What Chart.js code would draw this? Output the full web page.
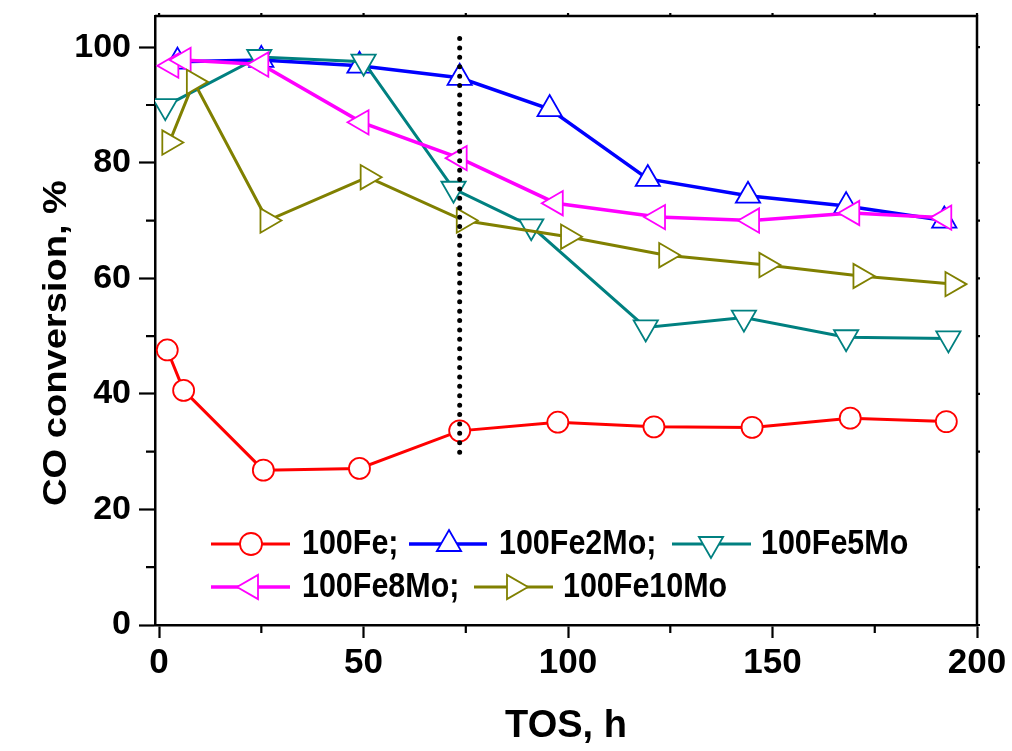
<!DOCTYPE html>
<html>
<head>
<meta charset="utf-8">
<title>CO conversion vs TOS</title>
<script src="https://cdn.jsdelivr.net/npm/chart.js@4.4.1/dist/chart.umd.min.js"></script>
<style>
  html, body { margin: 0; padding: 0; background: #fff; }
  #wrap { width: 1012px; height: 751px; position: relative; }
</style>
</head>
<body>
<div id="wrap"><canvas id="coChart"></canvas></div>
<script>
// time on stream (h) and CO conversion (%)
const tosFe = [2, 6, 25.5, 49, 73.5, 97.5, 121, 145, 169, 192.5];
const convFe = [47.6, 40.6, 26.8, 27.1, 33.6, 35.1, 34.3, 34.2, 35.8, 35.2];

const tosFe2Mo = [4.5, 25, 49, 73.5, 95.5, 119.5, 144, 168, 192];
const convFe2Mo = [97.5, 97.8, 96.8, 94.7, 89.3, 77.2, 74.3, 72.5, 70];

const tosFe5Mo = [1.5, 24.5, 50, 72, 91, 119, 143, 168, 193];
const convFe5Mo = [89.8, 98.3, 97.5, 75.5, 69, 51.5, 53.2, 49.8, 49.6];

const tosFe8Mo = [3, 6, 25, 49.5, 73.5, 97, 122, 145, 169.5, 192];
const convFe8Mo = [96.8, 97.8, 97, 87, 80.8, 73, 70.6, 70, 71.3, 70.5];

const tosFe10Mo = [2.5, 8.5, 26.5, 51, 74.5, 100, 124, 148.5, 171.5, 194];
const convFe10Mo = [83.5, 94, 70, 77.5, 70, 67.2, 64, 62.3, 60.4, 59];

// dotted marker line
const markTos = [73.5, 73.5];
const markConv = [101.5, 28.5];

const seriesNames = ["100Fe;", "100Fe2Mo;", "100Fe5Mo", "100Fe8Mo;", "100Fe10Mo"];

const xTicks = [0, 50, 100, 150, 200];
const xMinorTicks = [25, 75, 125, 175];
const yTicks = [0, 20, 40, 60, 80, 100];
const yMinorTicks = [10, 30, 50, 70, 90];

const toPoints = (xs, ys) => xs.map((x, i) => ({ x, y: ys[i] }));

const fontFamily = '"Liberation Sans", Arial, sans-serif';

const makeSeries = (label, xs, ys, color, style, rot, radius, width, order) => ({
    label,
    data: toPoints(xs, ys),
    borderColor: color,
    borderWidth: width,
    pointStyle: style,
    pointRotation: rot,
    pointRadius: radius,
    pointBorderWidth: 1.8,
    pointBorderColor: color,
    pointBackgroundColor: "#fff",
    tension: 0,
    order,
});

const datasets = [
    makeSeries(seriesNames[0], tosFe, convFe, "#ff0000", "circle", 0, 10.5, 3, 5),
    makeSeries(seriesNames[1], tosFe2Mo, convFe2Mo, "#0000ff", "triangle", 0, 14, 3.5, 4),
    makeSeries(seriesNames[2], tosFe5Mo, convFe5Mo, "#008080", "triangle", 180, 14, 3, 3),
    makeSeries(seriesNames[3], tosFe8Mo, convFe8Mo, "#ff00ff", "triangle", -90, 14, 3.5, 2),
    makeSeries(seriesNames[4], tosFe10Mo, convFe10Mo, "#808000", "triangle", 90, 14, 3, 1),
    {
        label: "marker",
        data: toPoints(markTos, markConv),
        borderColor: "#000",
        borderWidth: 5,
        borderDash: [0, 9.4],
        borderCapStyle: "round",
        pointRadius: 0,
        order: 0,
    },
];

function drawMarker(ctx, style, rot, r, cx, cy) {
    ctx.beginPath();
    if (style === "circle") {
        ctx.arc(cx, cy, r, 0, Math.PI * 2);
    } else {
        const a = (rot * Math.PI) / 180;
        for (let k = 0; k < 3; k++) {
            const t = a + (k * 2 * Math.PI) / 3;
            const px = cx + Math.sin(t) * r;
            const py = cy - Math.cos(t) * r;
            if (k === 0) ctx.moveTo(px, py);
            else ctx.lineTo(px, py);
        }
        ctx.closePath();
    }
    ctx.fill();
    ctx.stroke();
}

// box frame, minor ticks and the y title
const framePlugin = {
    id: "frame",
    afterDraw(chart) {
        const { ctx, chartArea: a, scales } = chart;
        const x = scales.x, y = scales.y;
        ctx.save();
        ctx.strokeStyle = "#000";
        ctx.lineWidth = 2.5;
        ctx.beginPath();
        ctx.moveTo(a.left, a.top);
        ctx.lineTo(a.right, a.top);
        ctx.lineTo(a.right, a.bottom);
        ctx.stroke();

        ctx.lineWidth = 2.2;
        ctx.beginPath();
        yMinorTicks.forEach((v) => {
            const py = y.getPixelForValue(v);
            ctx.moveTo(a.left, py);
            ctx.lineTo(a.left - 9, py);
        });
        xMinorTicks.forEach((v) => {
            const px = x.getPixelForValue(v);
            ctx.moveTo(px, a.bottom);
            ctx.lineTo(px, a.bottom + 8);
        });
        yTicks.concat(yMinorTicks).forEach((v) => {
            const py = y.getPixelForValue(v);
            ctx.moveTo(a.right, py);
            ctx.lineTo(a.right + 3, py);
        });
        xTicks.concat(xMinorTicks).forEach((v) => {
            const px = x.getPixelForValue(v);
            ctx.moveTo(px, a.top);
            ctx.lineTo(px, a.top - 3);
        });
        ctx.stroke();

        ctx.fillStyle = "#000";
        ctx.font = "bold 34px " + fontFamily;
        ctx.textAlign = "center";
        ctx.textBaseline = "middle";
        ctx.translate(57, 343);
        ctx.rotate(-Math.PI / 2);
        ctx.scale(1.12, 1);
        ctx.fillText("CO conversion, %", 0, 0);
        ctx.restore();
    },
};

// legend inside the plot, two rows as in the original
const legendPlugin = {
    id: "innerLegend",
    afterDraw(chart) {
        const { ctx } = chart;
        const items = [
            { ds: 0, x0: 211, x1: 290, mx: 251, tx: 302, ty: 544 },
            { ds: 1, x0: 409, x1: 487, mx: 449, tx: 499, ty: 544 },
            { ds: 2, x0: 672, x1: 751, mx: 711, tx: 761, ty: 544 },
            { ds: 3, x0: 211, x1: 290, mx: 251, tx: 302, ty: 587 },
            { ds: 4, x0: 474, x1: 553, mx: 514, tx: 563, ty: 587 },
        ];
        ctx.save();
        items.forEach((it) => {
            const d = chart.data.datasets[it.ds];
            ctx.strokeStyle = d.borderColor;
            ctx.lineWidth = d.borderWidth;
            ctx.beginPath();
            ctx.moveTo(it.x0, it.ty);
            ctx.lineTo(it.x1, it.ty);
            ctx.stroke();
            ctx.fillStyle = "#fff";
            ctx.lineWidth = 1.8;
            drawMarker(ctx, d.pointStyle, d.pointRotation, d.pointStyle === "circle" ? 11 : 14, it.mx, it.ty);
            ctx.save();
            ctx.fillStyle = "#000";
            ctx.font = "bold 35px " + fontFamily;
            ctx.textAlign = "left";
            ctx.textBaseline = "middle";
            ctx.translate(it.tx, it.ty);
            ctx.scale(0.87, 1);
            ctx.fillText(d.label, 0, 0);
            ctx.restore();
        });
        ctx.restore();
    },
};

new Chart(document.getElementById("coChart"), {
    type: "line",
    data: { datasets },
    options: {
        responsive: true,
        maintainAspectRatio: false,
        animation: false,
        events: [],
        layout: { padding: { left: 0, right: 35, top: 16, bottom: 0 } },
        plugins: {
            legend: { display: false },
            tooltip: { enabled: false },
        },
        scales: {
            x: {
                type: "linear",
                min: -1,
                max: 200,
                afterBuildTicks: (s) => { s.ticks = xTicks.map((v) => ({ value: v })); },
                afterFit: (s) => {
                    s.height = 126;
                    s.paddingLeft = 0;
                    s.paddingRight = 0;
                },
                ticks: {
                    color: "#000",
                    padding: 4,
                    font: { family: fontFamily, size: 35, weight: "bold" },
                },
                grid: {
                    drawOnChartArea: false,
                    drawTicks: true,
                    tickLength: 13,
                    tickColor: "#000",
                    tickWidth: 2.2,
                },
                border: { display: true, color: "#000", width: 2.5 },
                title: {
                    display: true,
                    text: "TOS, h",
                    color: "#000",
                    padding: { top: 0, bottom: 2 },
                    font: { family: fontFamily, size: 38, weight: "bold" },
                },
            },
            y: {
                type: "linear",
                min: 0,
                max: 105.4,
                afterBuildTicks: (s) => { s.ticks = yTicks.map((v) => ({ value: v })); },
                afterFit: (s) => {
                    s.width = 155;
                    s.paddingTop = 0;
                    s.paddingBottom = 0;
                },
                ticks: {
                    color: "#000",
                    padding: 8,
                    font: { family: fontFamily, size: 34, weight: "bold" },
                },
                grid: {
                    drawOnChartArea: false,
                    drawTicks: true,
                    tickLength: 16,
                    tickColor: "#000",
                    tickWidth: 2.2,
                },
                border: { display: true, color: "#000", width: 2.5 },
            },
        },
    },
    plugins: [framePlugin, legendPlugin],
});
</script>
</body>
</html>
